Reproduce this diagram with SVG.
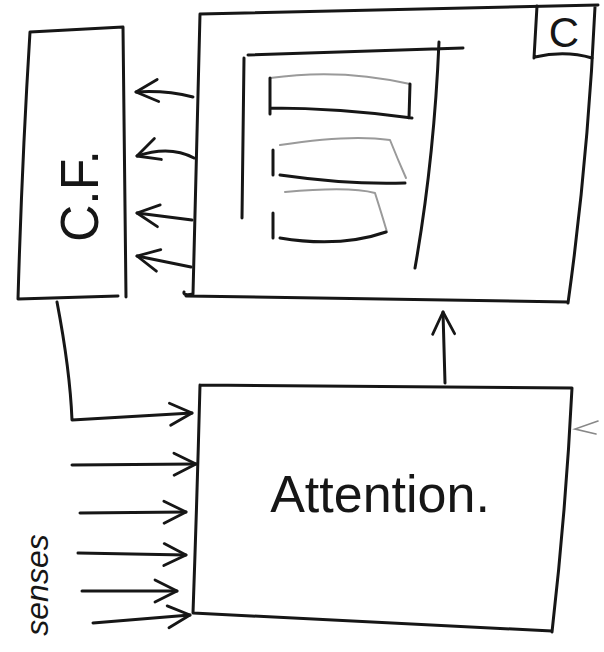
<svg xmlns="http://www.w3.org/2000/svg" width="604" height="652" viewBox="0 0 604 652">
<style>
.s{fill:none;stroke:#161616;stroke-width:3;stroke-linecap:round;stroke-linejoin:round}
.g{fill:none;stroke:#9a9a9a;stroke-width:2;stroke-linecap:round;stroke-linejoin:round}
.t{font-family:"Liberation Sans",Arial,sans-serif;fill:#161616}
</style>
<defs>
<marker id="ah" viewBox="0 0 32 32" refX="30" refY="16" markerWidth="32" markerHeight="32" markerUnits="userSpaceOnUse" orient="auto">
<path d="M8,5 L30,16 L8,27" fill="none" stroke="#161616" stroke-width="2.8" stroke-linecap="round" stroke-linejoin="round"/>
</marker>
</defs>
<rect width="604" height="652" fill="#ffffff"/>
<g id="cf">
<path class="s" d="M30,32 L123,27 L126,297 M30,32 Q22,160 18,299 L118,296"/>
<text class="t" x="0" y="0" font-size="54" text-anchor="middle" textLength="92" lengthAdjust="spacingAndGlyphs" transform="translate(98,196) rotate(-90)">C.F.</text>
</g>
<g id="content">
<path class="s" d="M200,14 L598,5 M200,14 L193,294 Q183,296 184,292 M186,296 L568,302 M595,7 Q588,160 568,303"/>
<path class="s" d="M537,6 L534,58 M535,57 Q565,50 592,58"/>
<text class="t" x="564" y="47" font-size="42" text-anchor="middle">C</text>
<path class="s" d="M248,55 L463,48 M244,58 L242,218 M439,42 Q434,160 415,268"/>
<path class="g" d="M270,78 Q340,68 410,84"/>
<path class="s" d="M270,78 L270,114 M410,84 L409,118 M270,108 Q340,108 412,118"/>
<path class="g" d="M280,145 Q350,134 390,140 Q398,160 406,178 M285,192 Q350,186 375,193 Q382,215 387,232"/>
<path class="s" d="M273,150 L273,175 M280,175 Q350,185 405,183 M273,213 L273,238 M280,238 Q340,248 386,232"/>
</g>
<g id="attention">
<path class="s" d="M200,385 L572,388 Q566,510 552,632 M200,385 Q197,500 193,613 L552,631"/>
<text class="t" x="380" y="512" font-size="52" text-anchor="middle">Attention.</text>
</g>
<g id="senses">
<text class="t" x="0" y="0" font-size="32" font-style="italic" text-anchor="middle" transform="translate(48,585) rotate(-90)">senses</text>
</g>
<g id="connectors">
<path class="s" marker-end="url(#ah)" d="M193,97 Q165,90 136,92"/>
<path class="s" marker-end="url(#ah)" d="M194,158 Q170,145 137,156"/>
<path class="s" marker-end="url(#ah)" d="M192,220 L137,213"/>
<path class="s" marker-end="url(#ah)" d="M191,267 L137,256"/>
<path class="s" marker-end="url(#ah)" d="M445,383 L443,312"/>
<path class="s" marker-end="url(#ah)" d="M57,302 Q70,370 72,420 L192,413"/>
<path class="s" marker-end="url(#ah)" d="M72,465 L196,464"/>
<path class="s" marker-end="url(#ah)" d="M80,513 L186,512"/>
<path class="s" marker-end="url(#ah)" d="M78,553 L186,555"/>
<path class="s" marker-end="url(#ah)" d="M82,591 L177,591"/>
<path class="s" marker-end="url(#ah)" d="M93,623 L190,615"/>
<path d="M598,421 L575,429 L596,434" fill="none" stroke="#888" stroke-width="1.6" stroke-linecap="round"/>
</g>
</svg>
